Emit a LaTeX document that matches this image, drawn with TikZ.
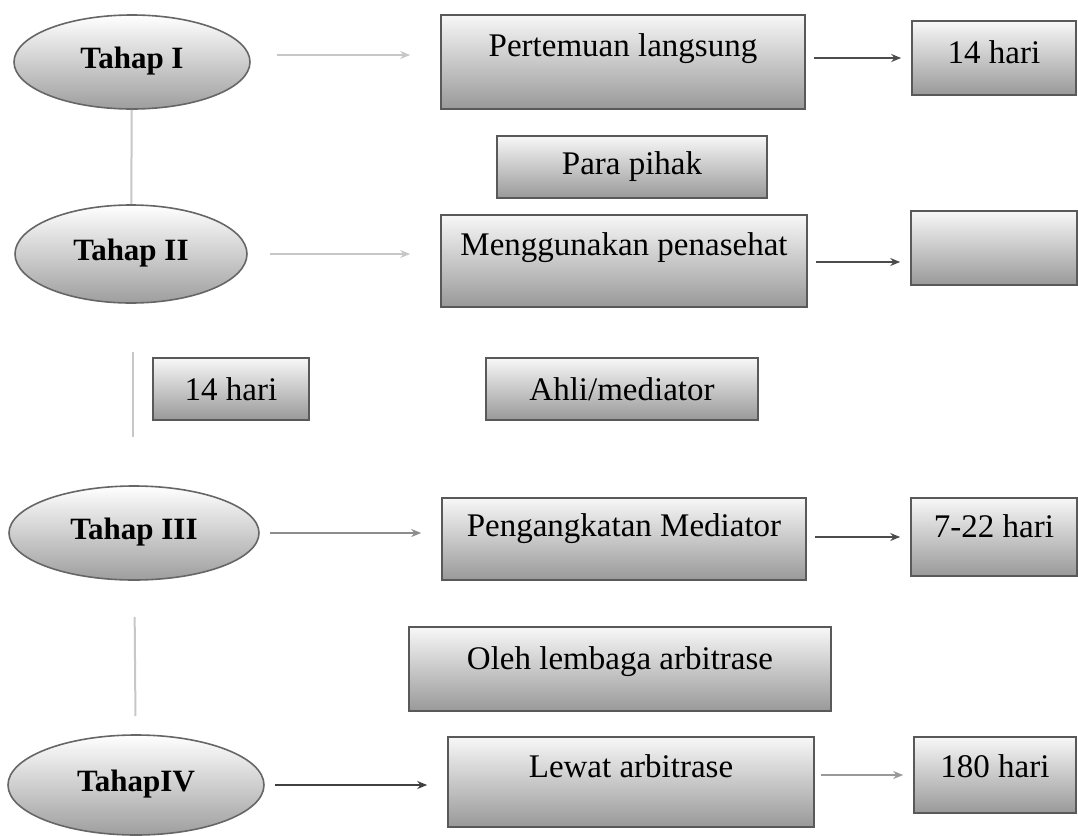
\documentclass[tikz,border=0pt]{standalone}
\usepackage{fontspec}
\setmainfont{Liberation Serif}
\usetikzlibrary{shapes.geometric, arrows.meta}

\begin{document}
\begin{tikzpicture}[
            x=0.5pt, y=-0.5pt, % pixel grid of the scan
            tahap/.style={
                ellipse, % stage bubble
                draw=black!60, line width=0.8pt,
                top color=white, bottom color=black!38,
                inner sep=0,
                font=\fontsize{15.5}{18}\selectfont\bfseries
            },
            kotak/.style={
                rectangle, % plain box
                draw=black!65, line width=0.8pt,
                top color=black!3, bottom color=black!40,
                inner sep=0,
                font=\fontsize{16.5}{19}\selectfont
            },
            naik/.style={text height=12pt, text depth=#1}, % lift text toward the top
            garis/.style={draw=black!22, line width=1pt}, % thin grey line
            panah/.style={-{Stealth[length=5pt, width=4pt]}, line width=1pt} % arrow
        ]
        \useasboundingbox (0,0) rectangle (1078,836);

        % stages on the left
        \node[tahap, naik=6pt, minimum width=118pt, minimum height=47pt] (t1) at (132,62) {Tahap I};
        \node[tahap, naik=6pt, minimum width=116pt, minimum height=49pt] (t2) at (131,254) {Tahap II};
        \node[tahap, naik=6pt, minimum width=125pt, minimum height=47pt] (t3) at (134,533) {Tahap III};
        \node[tahap, naik=6pt, minimum width=128pt, minimum height=50pt] (t4) at (136,785) {TahapIV};

        % middle column
        \node[kotak, naik=18pt, minimum width=182pt, minimum height=47pt] (langsung) at (623,62) {Pertemuan langsung};
        \node[kotak, minimum width=135pt, minimum height=31pt] (pihak) at (632,167) {Para pihak};
        \node[kotak, naik=18pt, minimum width=183pt, minimum height=46pt] (penasehat) at (624,261) {Menggunakan penasehat};
        \node[kotak, minimum width=136pt, minimum height=31pt] (ahli) at (622,389) {Ahli/mediator};
        \node[kotak, naik=15pt, minimum width=182pt, minimum height=41pt] (mediator) at (624,539) {Pengangkatan Mediator};
        \node[kotak, naik=12pt, minimum width=211pt, minimum height=42pt] (lembaga) at (620,669) {Oleh lembaga arbitrase};
        \node[kotak, naik=17pt, minimum width=183pt, minimum height=45pt] (arbitrase) at (631,782) {Lewat arbitrase};

        % day boxes
        \node[kotak, minimum width=78pt, minimum height=31pt] (hariA) at (231,389) {14 hari};
        \node[kotak, naik=7pt, minimum width=82pt, minimum height=37pt] (hariB) at (994,58) {14 hari};
        \node[kotak, minimum width=83pt, minimum height=37pt] (hariC) at (994,248) {};
        \node[kotak, naik=12pt, minimum width=83pt, minimum height=39pt] (hariD) at (994,537) {7-22 hari};
        \node[kotak, naik=10pt, minimum width=81pt, minimum height=38pt] (hariE) at (995,775) {180 hari};

        % free ends of the short line
        \coordinate (atas) at (133,352);
        \coordinate (bawah) at (133,437);

        % vertical links
        \draw[garis] (t1) -- (t2);
        \draw[garis] (atas) -- (bawah);
        \draw[garis, shorten <=18pt, shorten >=9pt] (t3) -- (t4);

        % stage to box
        \draw[garis, panah, shorten <=13pt, shorten >=15pt] ([yshift=3.5pt]t1.east) -- ([yshift=3.5pt]t1.east -| langsung.west);
        \draw[garis, panah, shorten <=11pt, shorten >=15pt] (t2.east) -- (t2.east -| penasehat.west);
        \draw[panah, draw=black!45, shorten <=5pt, shorten >=10pt] (t3.east) -- (t3.east -| mediator.west);
        \draw[panah, draw=black!75, shorten <=5pt, shorten >=10pt] (t4.east) -- (t4.east -| arbitrase.west);

        % box to days
        \draw[panah, draw=black!70, shorten <=4pt, shorten >=5pt] (langsung.east |- hariB) -- (hariB.west);
        \draw[panah, draw=black!70, shorten <=4pt, shorten >=5pt] (penasehat.east |- 0,262) -- (hariC.west |- 0,262);
        \draw[panah, draw=black!70, shorten <=4pt, shorten >=5pt] (mediator.east |- hariD) -- (hariD.west);
        \draw[panah, draw=black!40, shorten <=3pt, shorten >=5pt] (arbitrase.east |- hariE) -- (hariE.west);
\end{tikzpicture}
\end{document}
